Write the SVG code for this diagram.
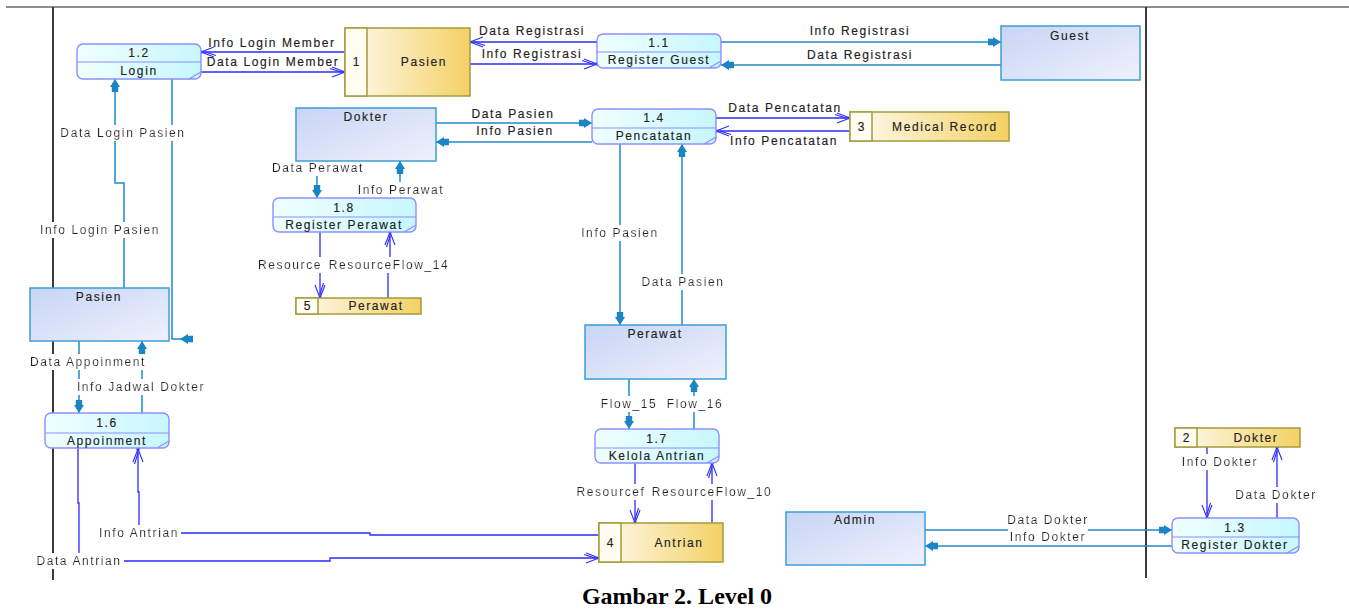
<svg xmlns="http://www.w3.org/2000/svg" width="1349" height="609" viewBox="0 0 1349 609">
  <style>
    .lb { font-family: "Liberation Sans", Arial, sans-serif; font-size: 12px; letter-spacing: 1.6px; fill: #222222; stroke: #222222; stroke-width: 0.15; text-anchor: middle; }
    .ent { fill: url(#gEnt); stroke: #3a9fd6; stroke-width: 1.5; }
    .proc { fill: url(#gProc); stroke: #8e8eff; stroke-width: 1.4; }
    .div { stroke: #8e8eff; stroke-width: 1.2; fill: none; }
    .store { fill: url(#gStore); stroke: #a39c3c; stroke-width: 1.5; }
    .sdiv { fill: #fffcf2; stroke: #a39c3c; stroke-width: 1.5; }
    .ef { fill: none; stroke: #1e88c8; stroke-width: 1.5; marker-end: url(#ah); }
    .sf { fill: none; stroke: #2b2bff; stroke-width: 1.3; marker-end: url(#oh); }
    .onl { filter: url(#bg); }
    .frame { stroke: #3a3a3a; stroke-width: 2; fill: none; }
  </style>
  <defs>
    <linearGradient id="gEnt" x1="0" y1="0" x2="1" y2="1">
      <stop offset="0" stop-color="#c7d5f5"/>
      <stop offset="1" stop-color="#eff1fd"/>
    </linearGradient>
    <linearGradient id="gProc" x1="0" y1="0" x2="1" y2="0">
      <stop offset="0" stop-color="#f0ffff"/>
      <stop offset="1" stop-color="#c6f7fd"/>
    </linearGradient>
    <linearGradient id="gStore" x1="0" y1="0" x2="1" y2="0">
      <stop offset="0" stop-color="#fffaf0"/>
      <stop offset="1" stop-color="#f4d165"/>
    </linearGradient>
    <!-- white box behind labels that sit on a line -->
    <filter id="bg" x="-0.02" y="-0.05" width="1.04" height="1.1">
      <feFlood flood-color="#ffffff"/>
      <feComposite in="SourceGraphic"/>
    </filter>
    <!-- filled head used between external entities and processes -->
    <marker id="ah" viewBox="0 -6 14 12" refX="13" refY="0" markerWidth="14" markerHeight="12" markerUnits="userSpaceOnUse" orient="auto">
      <path d="M13,0 L5,-5 L5,-3.2 L0,-3.2 L0,3.2 L5,3.2 L5,5 Z" fill="#1a84c4"/>
    </marker>
    <!-- open head used between processes and data stores -->
    <marker id="oh" viewBox="-16 -8 18 16" refX="0" refY="0" markerWidth="18" markerHeight="16" markerUnits="userSpaceOnUse" orient="auto">
      <path d="M-13,-5 L0,0 L-13,5 M-15,-3.5 L-4,0" fill="none" stroke="#2b2bff" stroke-width="1.1"/>
      <circle cx="0" cy="0" r="1.8" fill="#2b2bff"/>
    </marker>
  </defs>

  <rect width="1349" height="609" fill="#ffffff"/>

  <!-- frame -->
  <g id="frame">
    <line x1="6" y1="7" x2="1349" y2="7" stroke="#666666" stroke-width="1.5"/>
    <line class="frame" x1="53" y1="7" x2="53" y2="580"/>
    <line class="frame" x1="1146" y1="7" x2="1146" y2="578"/>
  </g>

  <!-- connectors -->
  <g id="connectors">
    <!-- entity flows -->
    <path class="ef" d="M721,42 H1001"/>
    <path class="ef" d="M1001,65 H721"/>
    <path class="ef" d="M436,123 H592"/>
    <path class="ef" d="M592,142 H436"/>
    <path class="ef" d="M317,161 V198"/>
    <path class="ef" d="M400,198 V161"/>
    <path class="ef" d="M620,144 V325"/>
    <path class="ef" d="M682,325 V144"/>
    <path class="ef" d="M629,379 V429"/>
    <path class="ef" d="M694,429 V379"/>
    <path class="ef" d="M124,288 V183 H115 V79"/>
    <path class="ef" d="M172,79 V339 H190 M190,339 H180"/>
    <path class="ef" d="M79,341 V413"/>
    <path class="ef" d="M142,413 V341"/>
    <path class="ef" d="M925,530 H1172"/>
    <path class="ef" d="M1172,546 H925"/>
    <!-- data store flows -->
    <path class="sf" d="M345,52 H201"/>
    <path class="sf" d="M201,72 H345"/>
    <path class="sf" d="M597,42 H470"/>
    <path class="sf" d="M470,64 H597"/>
    <path class="sf" d="M716,118 H850"/>
    <path class="sf" d="M850,131 H716"/>
    <path class="sf" d="M320,232 V298"/>
    <path class="sf" d="M388,298 V270 H390 V232"/>
    <path class="sf" d="M635,463 V523"/>
    <path class="sf" d="M712,523 V463"/>
    <path class="sf" d="M599,535 H370 V533 H139 V492 H138 V449"/>
    <path class="sf" d="M78,448 V503 H79 V561 H330 V558 H599"/>
    <path class="sf" d="M1207,447 V518"/>
    <path class="sf" d="M1277,518 V447"/>

    <!-- flow labels -->
    <text class="lb" x="272" y="47">Info Login Member</text>
    <text class="lb" x="273" y="66">Data Login Member</text>
    <text class="lb" x="532" y="35">Data Registrasi</text>
    <text class="lb" x="532" y="58">Info Registrasi</text>
    <text class="lb" x="860" y="35">Info Registrasi</text>
    <text class="lb" x="860" y="59">Data Registrasi</text>
    <text class="lb" x="513" y="118">Data Pasien</text>
    <text class="lb" x="515" y="135">Info Pasien</text>
    <text class="lb" x="785" y="112">Data Pencatatan</text>
    <text class="lb" x="784" y="145">Info Pencatatan</text>
    <text class="lb onl" x="123" y="137">Data Login Pasien</text>
    <text class="lb onl" x="100" y="234">Info Login Pasien</text>
    <text class="lb onl" x="318" y="172">Data Perawat</text>
    <text class="lb onl" x="401" y="194">Info Perawat</text>
    <text class="lb onl" x="290" y="269">Resource</text>
    <text class="lb onl" x="389" y="269">ResourceFlow_14</text>
    <text class="lb onl" x="620" y="237">Info Pasien</text>
    <text class="lb onl" x="683" y="286">Data Pasien</text>
    <text class="lb onl" x="88" y="366">Data Appoinment</text>
    <text class="lb onl" x="141" y="391">Info Jadwal Dokter</text>
    <text class="lb onl" x="629" y="408">Flow_15</text>
    <text class="lb onl" x="695" y="408">Flow_16</text>
    <text class="lb onl" x="611" y="496">Resourcef</text>
    <text class="lb onl" x="712" y="496">ResourceFlow_10</text>
    <text class="lb onl" x="139" y="537">Info Antrian</text>
    <text class="lb onl" x="79" y="565">Data Antrian</text>
    <text class="lb onl" x="1048" y="524">Data Dokter</text>
    <text class="lb onl" x="1048" y="541">Info Dokter</text>
    <text class="lb onl" x="1220" y="466">Info Dokter</text>
    <text class="lb onl" x="1276" y="499">Data Dokter</text>
  </g>

  <!-- external entities -->
  <g id="ent-guest">
    <rect class="ent" x="1001" y="26" width="139" height="54"/>
    <text class="lb" x="1070" y="40">Guest</text>
  </g>
  <g id="ent-dokter">
    <rect class="ent" x="296" y="108" width="140" height="53"/>
    <text class="lb" x="366" y="121">Dokter</text>
  </g>
  <g id="ent-pasien">
    <rect class="ent" x="30" y="288" width="139" height="53"/>
    <text class="lb" x="99" y="301">Pasien</text>
  </g>
  <g id="ent-perawat">
    <rect class="ent" x="585" y="325" width="141" height="54"/>
    <text class="lb" x="655" y="338">Perawat</text>
  </g>
  <g id="ent-admin">
    <rect class="ent" x="786" y="512" width="139" height="53"/>
    <text class="lb" x="855" y="524">Admin</text>
  </g>

  <!-- processes -->
  <g id="proc-1-2">
    <rect class="proc" x="77" y="44" width="124" height="35" rx="6"/>
    <line class="div" x1="77" y1="62" x2="201" y2="62"/>
    <line class="div" x1="189" y1="79" x2="201" y2="72"/>
    <text class="lb" x="139" y="57">1.2</text>
    <text class="lb" x="139" y="75">Login</text>
  </g>
  <g id="proc-1-1">
    <rect class="proc" x="597" y="34" width="124" height="34" rx="6"/>
    <line class="div" x1="597" y1="52" x2="721" y2="52"/>
    <line class="div" x1="709" y1="68" x2="721" y2="61"/>
    <text class="lb" x="659" y="47">1.1</text>
    <text class="lb" x="659" y="64">Register Guest</text>
  </g>
  <g id="proc-1-4">
    <rect class="proc" x="592" y="109" width="124" height="35" rx="6"/>
    <line class="div" x1="592" y1="128" x2="716" y2="128"/>
    <line class="div" x1="704" y1="144" x2="716" y2="137"/>
    <text class="lb" x="654" y="122">1.4</text>
    <text class="lb" x="654" y="140">Pencatatan</text>
  </g>
  <g id="proc-1-8">
    <rect class="proc" x="273" y="198" width="143" height="34" rx="6"/>
    <line class="div" x1="273" y1="217" x2="416" y2="217"/>
    <line class="div" x1="404" y1="232" x2="416" y2="225"/>
    <text class="lb" x="344" y="212">1.8</text>
    <text class="lb" x="344" y="229">Register Perawat</text>
  </g>
  <g id="proc-1-6">
    <rect class="proc" x="45" y="413" width="124" height="35" rx="6"/>
    <line class="div" x1="45" y1="433" x2="169" y2="433"/>
    <line class="div" x1="157" y1="448" x2="169" y2="441"/>
    <text class="lb" x="107" y="427">1.6</text>
    <text class="lb" x="107" y="445">Appoinment</text>
  </g>
  <g id="proc-1-7">
    <rect class="proc" x="595" y="429" width="124" height="34" rx="6"/>
    <line class="div" x1="595" y1="448" x2="719" y2="448"/>
    <line class="div" x1="707" y1="463" x2="719" y2="456"/>
    <text class="lb" x="657" y="443">1.7</text>
    <text class="lb" x="657" y="460">Kelola Antrian</text>
  </g>
  <g id="proc-1-3">
    <rect class="proc" x="1172" y="518" width="127" height="35" rx="6"/>
    <line class="div" x1="1172" y1="537" x2="1299" y2="537"/>
    <line class="div" x1="1287" y1="553" x2="1299" y2="546"/>
    <text class="lb" x="1235" y="532">1.3</text>
    <text class="lb" x="1235" y="549">Register Dokter</text>
  </g>

  <!-- data stores -->
  <g id="store-1">
    <rect class="store" x="345" y="28" width="125" height="68"/>
    <rect class="sdiv" x="345" y="28" width="22" height="68"/>
    <text class="lb" x="357" y="66">1</text>
    <text class="lb" x="424" y="66">Pasien</text>
  </g>
  <g id="store-3">
    <rect class="store" x="850" y="112" width="159" height="29"/>
    <rect class="sdiv" x="850" y="112" width="22" height="29"/>
    <text class="lb" x="862" y="131">3</text>
    <text class="lb" x="945" y="131">Medical Record</text>
  </g>
  <g id="store-5">
    <rect class="store" x="296" y="298" width="125" height="16"/>
    <rect class="sdiv" x="296" y="298" width="22" height="16"/>
    <text class="lb" x="308" y="310">5</text>
    <text class="lb" x="376" y="310">Perawat</text>
  </g>
  <g id="store-4">
    <rect class="store" x="599" y="523" width="124" height="39"/>
    <rect class="sdiv" x="599" y="523" width="22" height="39"/>
    <text class="lb" x="611" y="547">4</text>
    <text class="lb" x="679" y="547">Antrian</text>
  </g>
  <g id="store-2">
    <rect class="store" x="1175" y="428" width="125" height="19"/>
    <rect class="sdiv" x="1175" y="428" width="22" height="19"/>
    <text class="lb" x="1187" y="442">2</text>
    <text class="lb" x="1256" y="442">Dokter</text>
  </g>

  <!-- caption -->
  <text x="677" y="604" text-anchor="middle" font-family="'Liberation Serif', 'Times New Roman', serif" font-weight="bold" font-size="24" fill="#000000">Gambar 2. Level 0</text>
</svg>
